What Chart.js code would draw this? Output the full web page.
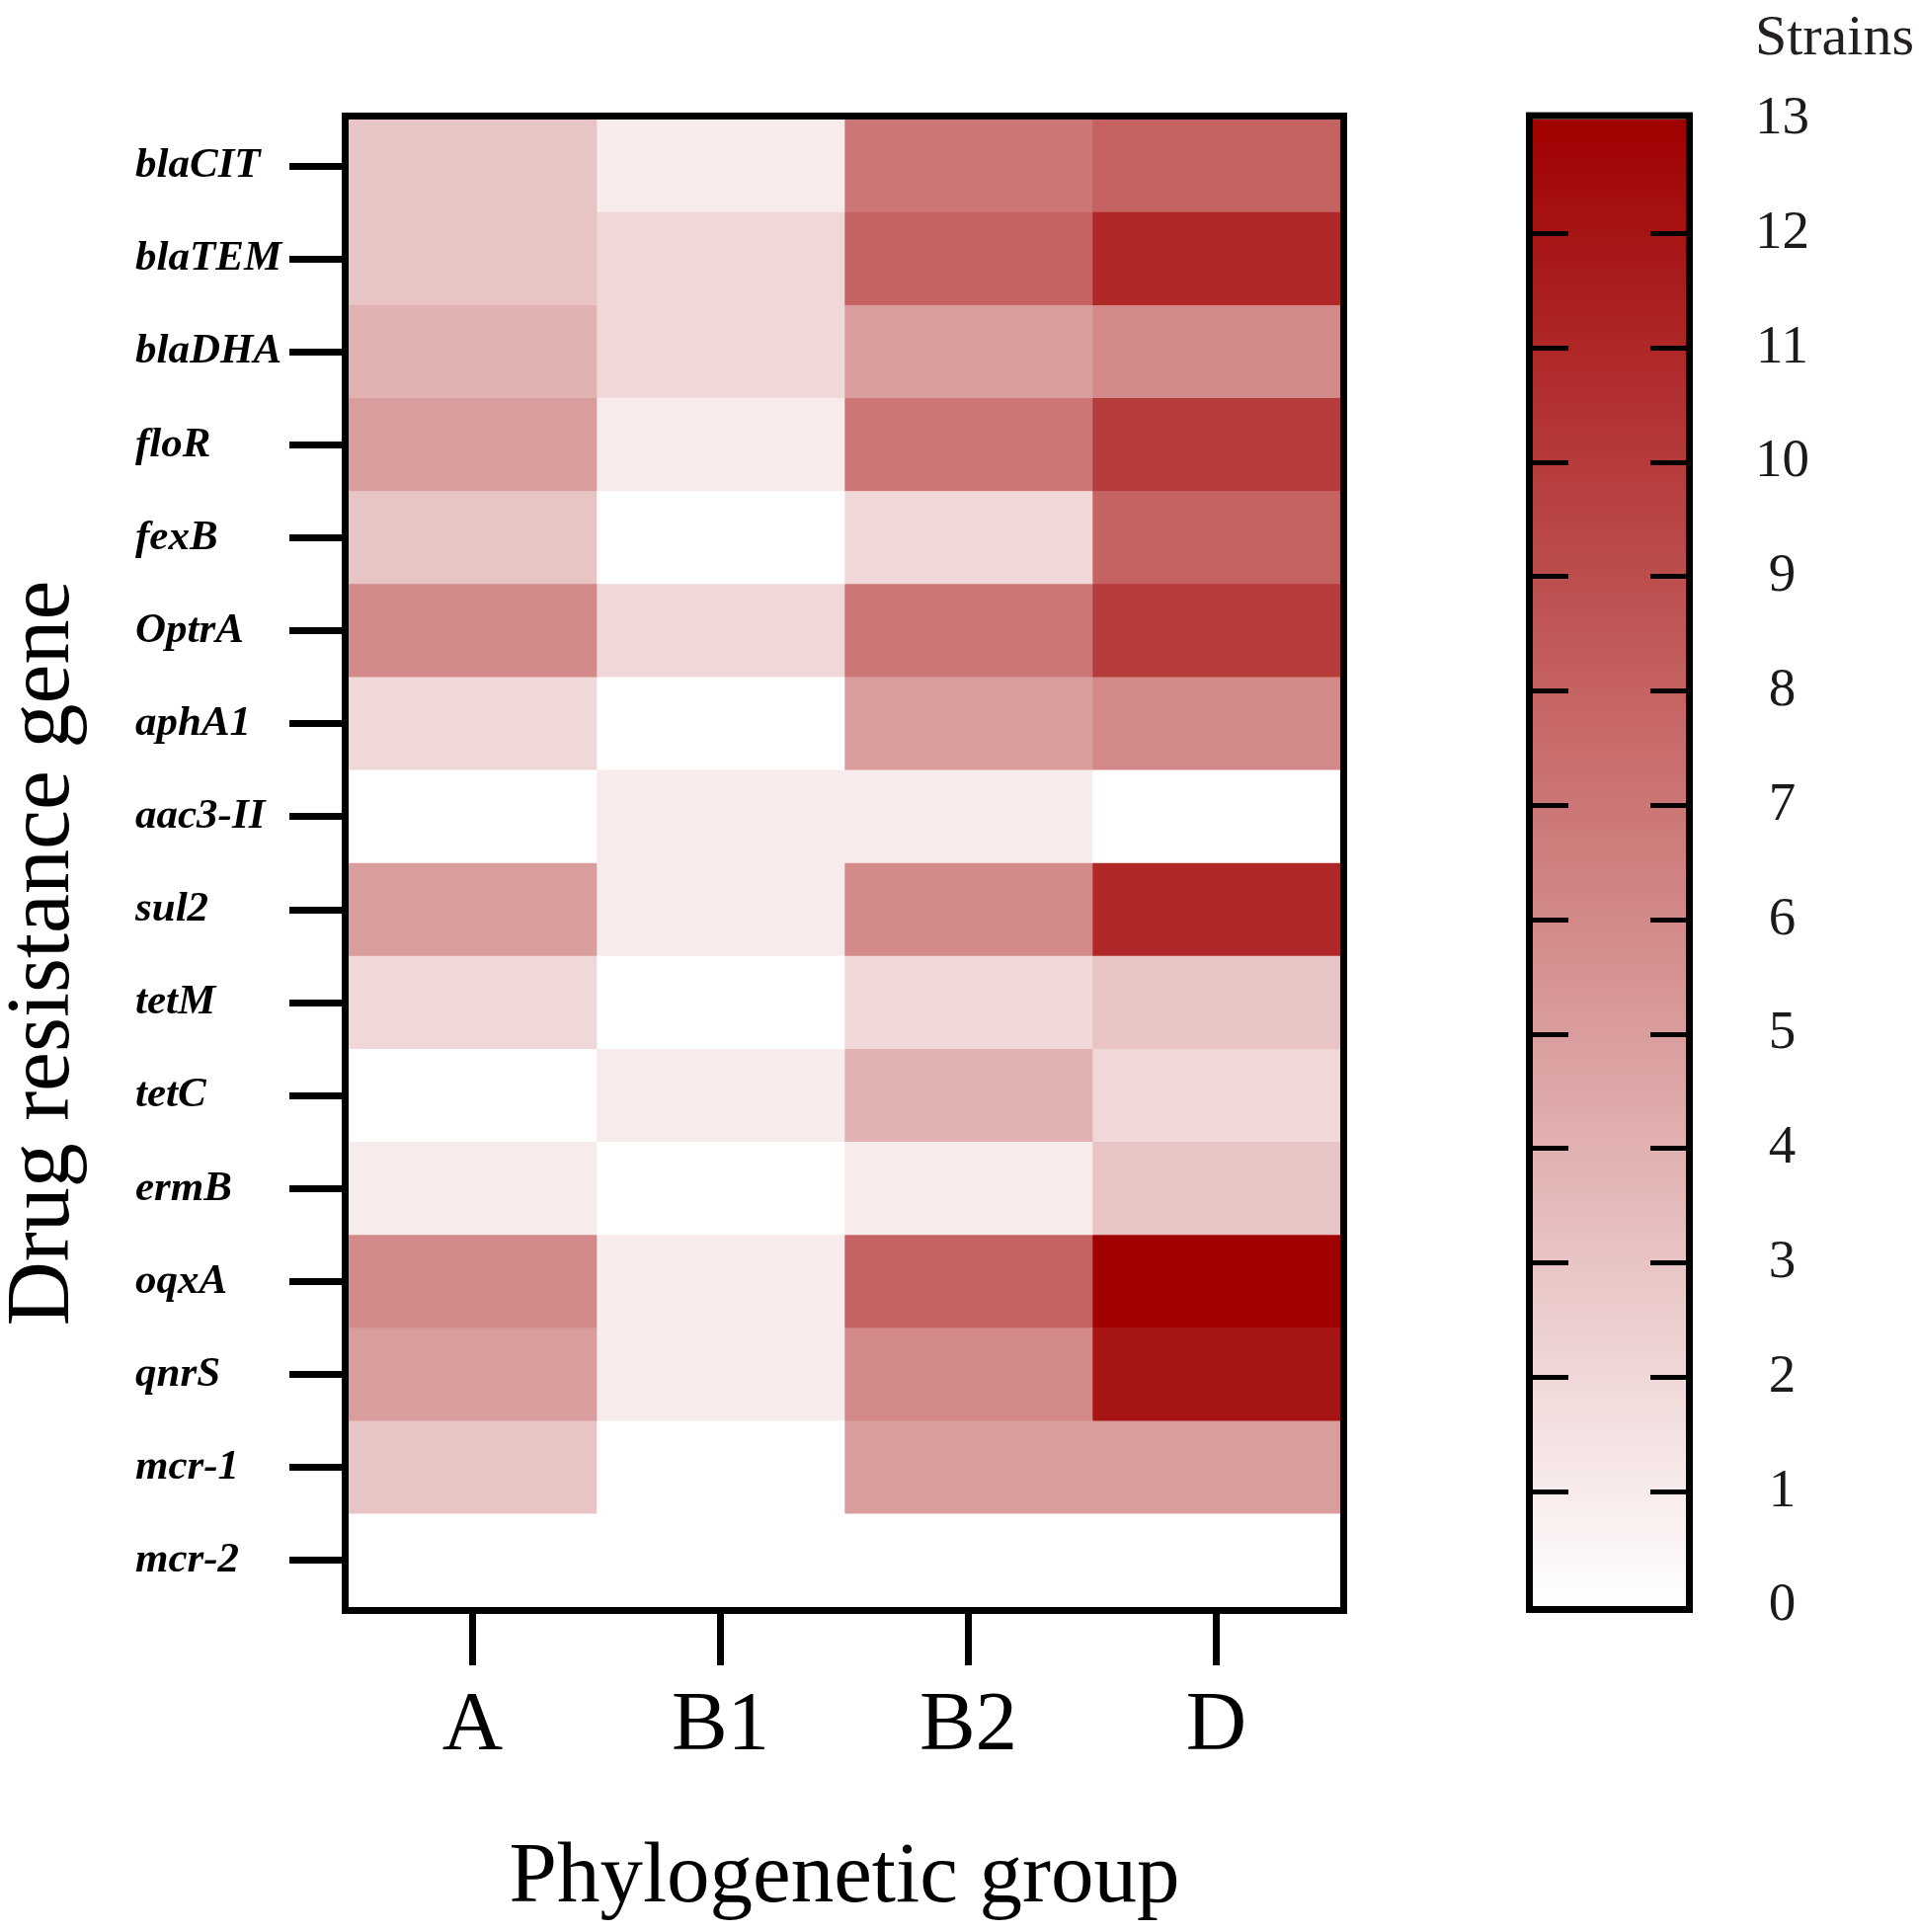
<!DOCTYPE html>
<html>
<head>
<meta charset="utf-8">
<title>Drug resistance gene heatmap</title>
<script src="https://cdn.jsdelivr.net/npm/chart.js@4.4.1/dist/chart.umd.min.js"></script>
<style>
  body { margin: 0; background: #fff; }
  #wrap { position: relative; width: 1943px; height: 1956px; }
  #heatmap { position: absolute; left: 0; top: 0; }
  #colorbar { position: absolute; left: 1500px; top: 0; }
</style>
</head>
<body>
<div id="wrap">
  <canvas id="heatmap" width="1500" height="1956"></canvas>
  <canvas id="colorbar" width="443" height="1956"></canvas>
</div>
<script>
// rows of the heatmap, top to bottom
const genes = ['blaCIT', 'blaTEM', 'blaDHA', 'floR', 'fexB', 'OptrA', 'aphA1', 'aac3-II',
               'sul2', 'tetM', 'tetC', 'ermB', 'oqxA', 'qnrS', 'mcr-1', 'mcr-2'];
const groups = ['A', 'B1', 'B2', 'D'];

// strains per gene, one array per phylogenetic group (same order as genes)
const countsA  = [3, 3, 4, 5, 3, 6, 2, 0, 5, 2, 0, 1, 6, 5, 3, 0];
const countsB1 = [1, 2, 2, 1, 0, 2, 0, 1, 1, 0, 1, 0, 1, 1, 0, 0];
const countsB2 = [7, 8, 5, 7, 2, 7, 5, 1, 6, 2, 4, 1, 8, 6, 5, 0];
const countsD  = [8, 11, 6, 10, 8, 10, 6, 0, 11, 3, 2, 3, 13, 12, 5, 0];

// colour bar scale
const strainTicks = [0, 1, 2, 3, 4, 5, 6, 7, 8, 9, 10, 11, 12, 13];
const maxCount = 13;

const serif = '"Liberation Serif", "Times New Roman", serif';
Chart.defaults.color = '#000';
Chart.defaults.font.family = serif;

// white -> dark red
function countColor(v) {
    const t = v / maxCount;
    const r = Math.round(255 - 95 * t);
    const g = Math.round(255 * (1 - t));
    return 'rgb(' + r + ',' + g + ',' + g + ')';
}

// black box around the plot area
const framePlugin = {
    id: 'frame',
    afterDraw(chart, args, opts) {
        const {ctx, chartArea: a} = chart;
        const w = opts.width || 7;
        ctx.save();
        ctx.lineWidth = w;
        ctx.strokeStyle = '#000';
        ctx.strokeRect(a.left - w / 2, a.top - w / 2, a.width + w, a.height + w);
        ctx.restore();
    }
};

// rotated y title, placed off-centre like the original
const yTitlePlugin = {
    id: 'yTitle',
    afterDraw(chart, args, opts) {
        const ctx = chart.ctx;
        ctx.save();
        ctx.translate(opts.x, opts.y);
        ctx.rotate(-Math.PI / 2);
        ctx.font = opts.size + 'px ' + serif;
        ctx.fillStyle = '#000';
        ctx.textAlign = 'center';
        ctx.textBaseline = 'alphabetic';
        ctx.fillText(opts.text, 0, 0);
        ctx.restore();
    }
};

let groupCounts = [countsA, countsB1, countsB2, countsD];

let heatCtx = document.getElementById('heatmap');
let heatConfig = {
    type: 'bar',
    data: {
        labels: genes,
        datasets: groups.map((g, i) => ({
            label: g,
            data: genes.map(() => 1),   // one unit wide cell per group
            backgroundColor: groupCounts[i].map(countColor),
            borderWidth: 0,
            barPercentage: 1,
            categoryPercentage: 1,
        }))
    },
    options: {
        indexAxis: 'y',
        responsive: false,
        animation: false,
        layout: { padding: { left: 137, top: 121, right: 143, bottom: 0 } },
        plugins: {
            legend: { display: false },
            tooltip: { enabled: false },
            frame: { width: 7 },
            yTitle: { text: 'Drug resistance gene', x: 69, y: 965, size: 90 },
        },
        scales: {
            x: {
                type: 'linear',
                stacked: true,
                min: 0,
                max: groups.length,
                afterBuildTicks: (scale) => {
                    scale.ticks = groups.map((g, i) => ({ value: i + 0.5 }));
                },
                afterFit: (scale) => { scale.height = 329; },
                ticks: {
                    autoSkip: false,
                    maxRotation: 0,
                    padding: 12,
                    font: { size: 85 },
                    callback: (value, index) => groups[index],
                },
                grid: {
                    drawOnChartArea: false,
                    drawTicks: true,
                    tickLength: 59,
                    lineWidth: 7,
                    color: '#000',
                },
                border: { display: false },
                title: {
                    display: true,
                    text: 'Phylogenetic group',
                    font: { size: 87 },
                    padding: { top: 0, bottom: 2 },
                },
            },
            y: {
                type: 'category',
                stacked: true,
                afterFit: (scale) => { scale.width = 216; },
                ticks: {
                    crossAlign: 'far',
                    font: { size: 43, style: 'italic', weight: 'bold' },
                },
                grid: {
                    offset: false,
                    drawOnChartArea: false,
                    drawTicks: true,
                    tickLength: 60,
                    lineWidth: 7,
                    color: '#000',
                },
                border: { display: false },
            }
        }
    },
    plugins: [framePlugin, yTitlePlugin],
};
let heatChart = new Chart(heatCtx, heatConfig);

// colour bar
let barCtx = document.getElementById('colorbar');
let barConfig = {
    type: 'bar',
    data: {
        labels: [''],
        datasets: [{
            data: [[0, maxCount]],
            borderWidth: 0,
            barPercentage: 1,
            categoryPercentage: 1,
            backgroundColor: (c) => {
                const chart = c.chart;
                if (!chart.chartArea) return countColor(maxCount);
                const ys = chart.scales.y;
                const grad = chart.ctx.createLinearGradient(0, ys.getPixelForValue(0), 0, ys.getPixelForValue(maxCount));
                strainTicks.forEach(v => grad.addColorStop(v / maxCount, countColor(v)));
                return grad;
            },
        }]
    },
    options: {
        responsive: false,
        animation: false,
        layout: { padding: { left: 52, right: 5, top: 0, bottom: 330 } },
        plugins: {
            legend: { display: false },
            tooltip: { enabled: false },
            frame: { width: 7 },
            title: {
                display: true,
                text: 'Strains',
                align: 'end',
                color: '#231f20',
                font: { size: 58, weight: 'normal' },
                padding: { top: 5, bottom: 46 },
            },
        },
        scales: {
            x: { display: false },
            y: {
                position: 'right',
                min: 0,
                max: maxCount,
                afterBuildTicks: (scale) => {
                    scale.ticks = strainTicks.map(v => ({ value: v }));
                },
                afterFit: (scale) => { scale.width = 231; },
                ticks: {
                    crossAlign: 'center',
                    padding: 70,
                    color: '#1a1a1a',
                    font: { size: 55 },
                },
                grid: {
                    z: 1,   // tick marks sit on top of the gradient
                    drawTicks: false,
                    lineWidth: 5,
                    color: (c) => (c.tick && (c.tick.value === 0 || c.tick.value === maxCount)) ? 'rgba(0,0,0,0)' : '#000',
                },
                border: { display: false, dash: [36, 83] },
            }
        }
    },
    plugins: [framePlugin],
};
let barChart = new Chart(barCtx, barConfig);
</script>
</body>
</html>
